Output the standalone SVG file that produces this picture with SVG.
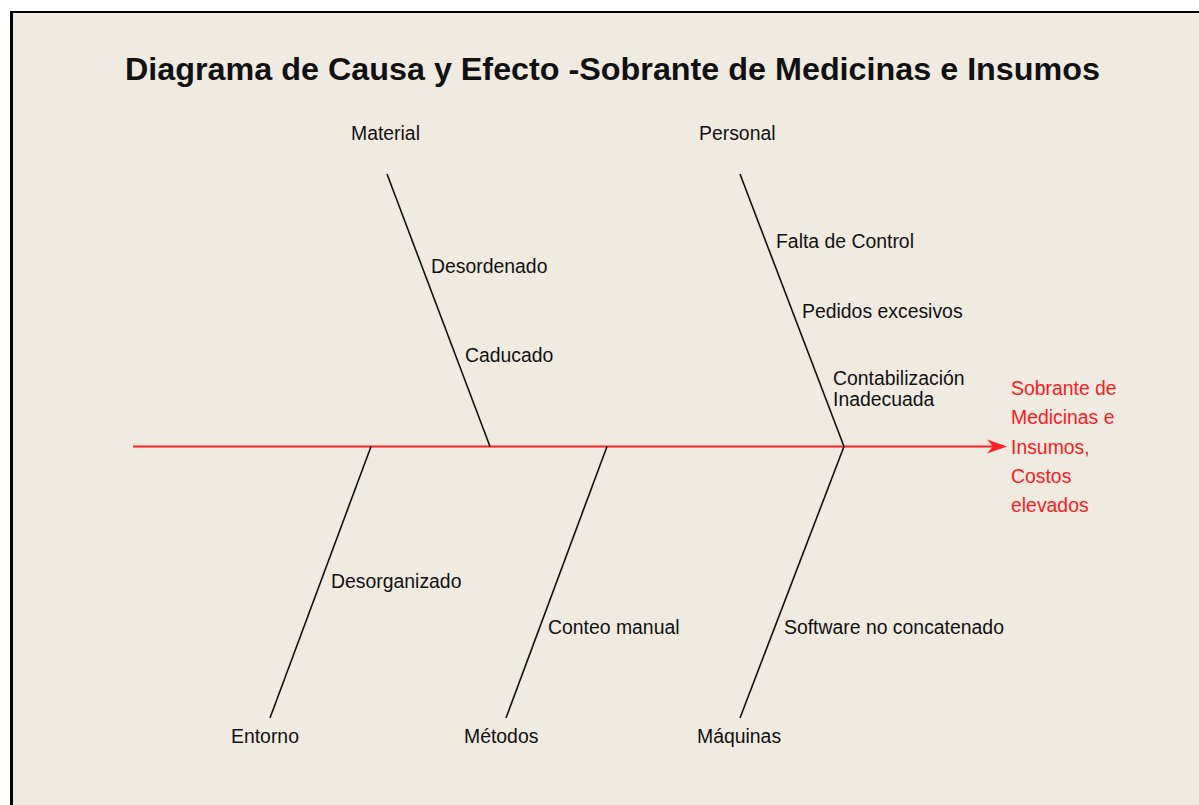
<svg xmlns="http://www.w3.org/2000/svg" width="1199" height="805" viewBox="0 0 1199 805">
<style>
.lbl{font-family:"Liberation Sans",Arial,sans-serif;font-size:19.4px;fill:#111111}
.eff{font-family:"Liberation Sans",Arial,sans-serif;font-size:19.4px;fill:#FF1A1A}
.title{font-family:"Liberation Sans",Arial,sans-serif;font-size:32px;font-weight:bold;fill:#111111}
.bone{stroke:#111111;stroke-width:1.6;fill:none}
.spine{stroke:#FF2020;stroke-width:2.2;fill:none}
</style>
<rect x="0" y="0" width="1199" height="805" fill="#FFFFFF"/>
<rect x="10" y="11" width="1189" height="794" fill="#F0EBE1"/>
<line x1="11.5" y1="11" x2="11.5" y2="805" stroke="#000000" stroke-width="3"/>
<line x1="10" y1="12" x2="1199" y2="12" stroke="#000000" stroke-width="2"/>
<text class="title" x="125" y="80" textLength="975" lengthAdjust="spacingAndGlyphs">Diagrama de Causa y Efecto -Sobrante de Medicinas e Insumos</text>
<g id="connectors">
<line class="spine" x1="133" y1="446.5" x2="1000" y2="446.5"/>
<path d="M1007,446.5 L987,439.5 L993,446.5 L987,453.5 Z" fill="#FF2020"/>
<line class="bone" x1="387" y1="174" x2="490" y2="446.5"/>
<line class="bone" x1="740" y1="174" x2="844" y2="446.5"/>
<line class="bone" x1="371" y1="446.5" x2="270" y2="718"/>
<line class="bone" x1="607" y1="446.5" x2="506" y2="718"/>
<line class="bone" x1="844" y1="446.5" x2="740" y2="718"/>
</g>
<g id="material"><text class="lbl" x="351" y="140">Material</text></g>
<g id="personal"><text class="lbl" x="699" y="140">Personal</text></g>
<g id="entorno"><text class="lbl" x="231" y="743">Entorno</text></g>
<g id="metodos"><text class="lbl" x="464" y="743">Métodos</text></g>
<g id="maquinas"><text class="lbl" x="697" y="743">Máquinas</text></g>
<g id="desordenado"><text class="lbl" x="431" y="273">Desordenado</text></g>
<g id="caducado"><text class="lbl" x="465" y="362">Caducado</text></g>
<g id="falta-control"><text class="lbl" x="776" y="248">Falta de Control</text></g>
<g id="pedidos"><text class="lbl" x="802" y="318">Pedidos excesivos</text></g>
<g id="contabilizacion"><text class="lbl" x="833" y="385">Contabilización</text><text class="lbl" x="833" y="406">Inadecuada</text></g>
<g id="desorganizado"><text class="lbl" x="331" y="588">Desorganizado</text></g>
<g id="conteo"><text class="lbl" x="548" y="634">Conteo manual</text></g>
<g id="software"><text class="lbl" x="784" y="634">Software no concatenado</text></g>
<g id="efecto">
<text class="eff" x="1011" y="395">Sobrante de</text>
<text class="eff" x="1011" y="424">Medicinas e</text>
<text class="eff" x="1011" y="454">Insumos,</text>
<text class="eff" x="1011" y="483">Costos</text>
<text class="eff" x="1011" y="512">elevados</text>
</g>
</svg>
